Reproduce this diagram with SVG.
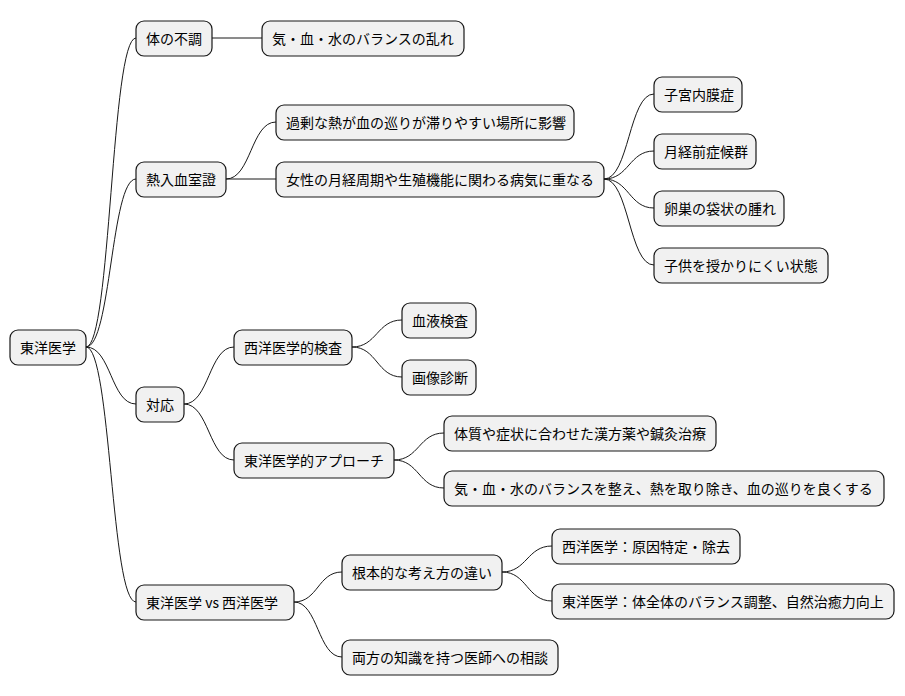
<svg xmlns="http://www.w3.org/2000/svg" width="905" height="696" viewBox="0 0 905 696">
<style>
.n rect{fill:#f1f1f1;stroke:#181818;stroke-width:1.2}
.n text{font-family:"Noto Sans CJK JP","Noto Sans CJK SC",sans-serif;font-size:14px;fill:#000;dominant-baseline:central}
#c path{fill:none;stroke:#181818;stroke-width:1}
</style>
<rect width="905" height="696" fill="#fff"/>
<g id="c">
<path d="M86,347 C111,347 111,38 136,38"/>
<path d="M86,347 C111,347 111,179 136,179"/>
<path d="M86,347 C111,347 111,404 136,404"/>
<path d="M86,347 C111,347 111,602 136,602"/>
<path d="M212,38 L262,38"/>
<path d="M226,179 C251,179 251,122 276,122"/>
<path d="M226,179 L276,179"/>
<path d="M604,179 C629,179 629,94 654,94"/>
<path d="M604,179 C629,179 629,151 654,151"/>
<path d="M604,179 C629,179 629,208 654,208"/>
<path d="M604,179 C629,179 629,265 654,265"/>
<path d="M184,404 C209,404 209,347 234,347"/>
<path d="M184,404 C209,404 209,460 234,460"/>
<path d="M352,347 C377,347 377,320 402,320"/>
<path d="M352,347 C377,347 377,377 402,377"/>
<path d="M394,460 C419,460 419,433 444,433"/>
<path d="M394,460 C419,460 419,488 444,488"/>
<path d="M294,602 C318,602 318,572 342,572"/>
<path d="M294,602 C318,602 318,657 342,657"/>
<path d="M502,572 C527,572 527,546 552,546"/>
<path d="M502,572 C527,572 527,601 552,601"/>
</g>
<g id="n1" class="n"><rect x="10" y="330" width="76" height="35" rx="8"/><text x="20" y="347">東洋医学</text></g>
<g id="n2" class="n"><rect x="136" y="21" width="76" height="35" rx="8"/><text x="146" y="38">体の不調</text></g>
<g id="n3" class="n"><rect x="262" y="21" width="202" height="35" rx="8"/><text x="272" y="38">気・血・水のバランスの乱れ</text></g>
<g id="n4" class="n"><rect x="136" y="162" width="90" height="35" rx="8"/><text x="146" y="179">熱入血室證</text></g>
<g id="n5" class="n"><rect x="276" y="105" width="298" height="35" rx="8"/><text x="286" y="122">過剰な熱が血の巡りが滞りやすい場所に影響</text></g>
<g id="n6" class="n"><rect x="276" y="162" width="328" height="35" rx="8"/><text x="286" y="179">女性の月経周期や生殖機能に関わる病気に重なる</text></g>
<g id="n7" class="n"><rect x="654" y="77" width="88" height="35" rx="8"/><text x="664" y="94">子宮内膜症</text></g>
<g id="n8" class="n"><rect x="654" y="134" width="102" height="35" rx="8"/><text x="664" y="151">月経前症候群</text></g>
<g id="n9" class="n"><rect x="654" y="191" width="130" height="35" rx="8"/><text x="664" y="208">卵巣の袋状の腫れ</text></g>
<g id="n10" class="n"><rect x="654" y="248" width="174" height="35" rx="8"/><text x="664" y="265">子供を授かりにくい状態</text></g>
<g id="n11" class="n"><rect x="136" y="387" width="48" height="35" rx="8"/><text x="146" y="404">対応</text></g>
<g id="n12" class="n"><rect x="234" y="330" width="118" height="35" rx="8"/><text x="244" y="347">西洋医学的検査</text></g>
<g id="n13" class="n"><rect x="402" y="303" width="74" height="35" rx="8"/><text x="412" y="320">血液検査</text></g>
<g id="n14" class="n"><rect x="402" y="360" width="74" height="35" rx="8"/><text x="412" y="377">画像診断</text></g>
<g id="n15" class="n"><rect x="234" y="443" width="160" height="35" rx="8"/><text x="244" y="460">東洋医学的アプローチ</text></g>
<g id="n16" class="n"><rect x="444" y="416" width="272" height="35" rx="8"/><text x="454" y="433">体質や症状に合わせた漢方薬や鍼灸治療</text></g>
<g id="n17" class="n"><rect x="444" y="471" width="440" height="35" rx="8"/><text x="454" y="488">気・血・水のバランスを整え、熱を取り除き、血の巡りを良くする</text></g>
<g id="n18" class="n"><rect x="136" y="585" width="158" height="35" rx="8"/><text x="146" y="602">東洋医学 vs 西洋医学</text></g>
<g id="n19" class="n"><rect x="342" y="555" width="160" height="35" rx="8"/><text x="352" y="572">根本的な考え方の違い</text></g>
<g id="n20" class="n"><rect x="552" y="529" width="188" height="35" rx="8"/><text x="562" y="546">西洋医学：原因特定・除去</text></g>
<g id="n21" class="n"><rect x="552" y="584" width="342" height="35" rx="8"/><text x="562" y="601">東洋医学：体全体のバランス調整、自然治癒力向上</text></g>
<g id="n22" class="n"><rect x="342" y="640" width="216" height="35" rx="8"/><text x="352" y="657">両方の知識を持つ医師への相談</text></g>
</svg>
